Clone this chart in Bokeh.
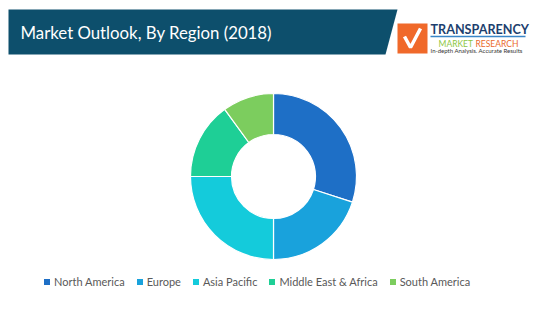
import math
from bokeh.plotting import figure
from bokeh.models import Range1d, Legend, LegendItem, ColumnDataSource
from bokeh.core.properties import value
from bokeh.embed import file_html
from bokeh.resources import INLINE

# ---- data ----
regions = ["North America", "Europe", "Asia Pacific", "Middle East & Africa", "South America"]
shares = [30, 20, 25, 15, 10]
colors = ["#1e6fc6", "#19a2dc", "#14cbdb", "#1ecf96", "#7ccd5e"]
title_text = "Market Outlook, By Region (2018)"

W, H = 556, 312

def Y(y):
    return H - y

p = figure(width=W, height=H, x_range=Range1d(0, W), y_range=Range1d(0, H),
           output_backend="svg", toolbar_location=None, min_border=0,
           x_axis_location=None, y_axis_location=None)
p.grid.visible = False
p.outline_line_color = None
p.background_fill_color = "white"
p.border_fill_color = "white"

# ---- header banner ----
p.patch(x=[8, 397, 385, 8], y=[Y(9), Y(9), Y(54), Y(54)], fill_color="#0d4f6c", line_color=None)
p.text(x=[20], y=[Y(32)], text=[title_text], text_color="white",
       text_font=value("Lato"), text_font_size="16.8px", text_baseline="middle")

# ---- logo ----
p.quad(left=[397], right=[427], top=[Y(23)], bottom=[Y(53)], fill_color="#f0692a", line_color=None)
p.line(x=[404, 410, 420], y=[Y(36), Y(47), Y(28)], line_color="white", line_width=3.5)
p.text(x=[430], y=[Y(29)], text=["TRANSPARENCY"], text_color="#1d3f6e",
       text_font=value("Lato"), text_font_style="bold", text_font_size="12.6px", text_baseline="middle")
p.line(x=[430, 525], y=[Y(36), Y(36)], line_color="#3a86c8", line_width=1.5)
p.text(x=[438], y=[Y(43)], text=["MARKET"], text_color="#8dc63f",
       text_font=value("Lato"), text_font_size="8.5px", text_baseline="middle")
p.text(x=[475], y=[Y(43)], text=["RESEARCH"], text_color="#ea6a2c",
       text_font=value("Lato"), text_font_size="8.5px", text_baseline="middle")
p.text(x=[430], y=[Y(50)], text=["In-depth Analysis. Accurate Results"], text_color="#333333",
       text_font=value("Lato"), text_font_size="6px", text_baseline="middle")

# ---- donut ----
total = float(sum(shares))
starts, ends = [], []
cum = 0.0
for v in shares:
    starts.append(math.pi / 2 - 2 * math.pi * cum / total)
    cum += v
    ends.append(math.pi / 2 - 2 * math.pi * cum / total)

src = ColumnDataSource(dict(region=regions, share=shares, color=colors,
                            start=starts, end=ends))
r = p.annular_wedge(x=273, y=Y(176), inner_radius=42, outer_radius=83,
                    start_angle="start", end_angle="end", direction="clock",
                    fill_color="color", line_color="white", line_width=1.2, source=src)

# ---- legend ----
items = [LegendItem(label=reg, renderers=[r], index=i) for i, reg in enumerate(regions)]
legend = Legend(items=items, orientation="horizontal", location=(42, Y(288)),
                glyph_width=9, glyph_height=9, label_standoff=3, spacing=10,
                padding=0, margin=0, border_line_color=None, background_fill_alpha=0,
                label_text_font="Lato", label_text_font_size="11px",
                label_text_color="#595959", label_height=14)
p.add_layout(legend)

open("out.html", "w").write(file_html(p, INLINE))
